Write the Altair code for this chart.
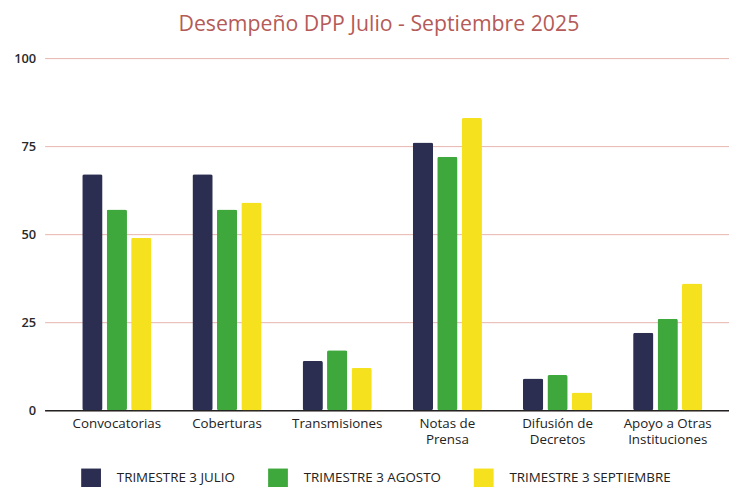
import altair as alt
import pandas as pd

categories = ["Convocatorias", "Coberturas", "Transmisiones", "Notas de Prensa",
              "Difusión de Decretos", "Apoyo a Otras Instituciones"]
series = ["TRIMESTRE 3 JULIO", "TRIMESTRE 3 AGOSTO", "TRIMESTRE 3 SEPTIEMBRE"]
julio = [67, 67, 14, 76, 9, 22]
agosto = [57, 57, 17, 72, 10, 26]
septiembre = [49, 59, 12, 83, 5, 36]
colors = ["#2b2e50", "#3ea83c", "#f6e11e"]

rows = []
for vals, s in zip([julio, agosto, septiembre], series):
    for c, v in zip(categories, vals):
        rows.append({"Categoria": c, "Serie": s, "Valor": v})
df = pd.DataFrame(rows)

label_expr = (
    "datum.value == 'Notas de Prensa' ? ['Notas de', 'Prensa'] : "
    "datum.value == 'Difusión de Decretos' ? ['Difusión de', 'Decretos'] : "
    "datum.value == 'Apoyo a Otras Instituciones' ? ['Apoyo a Otras', 'Instituciones'] : datum.value"
)

font = "Open Sans"

chart = alt.Chart(df).mark_bar(cornerRadius=2).encode(
    x=alt.X("Categoria:N", sort=categories, title=None,
            scale=alt.Scale(paddingInner=0.372, paddingOuter=0.292, align=0.585),
            axis=alt.Axis(labelAngle=0, labelExpr=label_expr, labelFont=font,
                          labelFontSize=13.5, labelColor="#222222", labelPadding=6,
                          ticks=False, domainColor="#222222", domainWidth=1.5,
                          labelLineHeight=17, labelBaseline="top")),
    xOffset=alt.XOffset("Serie:N", sort=series, scale=alt.Scale(paddingInner=0.17)),
    y=alt.Y("Valor:Q", title=None,
            scale=alt.Scale(domain=[0, 100]),
            axis=alt.Axis(values=[0, 25, 50, 75, 100], labelFont=font, labelFontSize=13,
                          labelFontWeight=600,
                          labelColor="#2a2a2a", labelPadding=9, ticks=False, domain=False,
                          gridColor="#e6b5ad", gridWidth=1)),
    color=alt.Color("Serie:N", sort=series,
                    scale=alt.Scale(domain=series, range=colors),
                    legend=alt.Legend(title=None, orient="none", direction="horizontal",
                                      legendX=37, legendY=415,
                                      symbolType="square", symbolSize=400,
                                      symbolStrokeWidth=0, labelFont=font,
                                      labelFontSize=13.5, labelColor="#222222",
                                      labelLimit=300,
                                      labelOffset=16, columnPadding=33)),
).properties(
    width=692, height=356,
    autosize=alt.AutoSizeParams(type="none"),
    padding={"left": 37, "top": 48, "right": 0, "bottom": 75},
    title=alt.Title("Desempeño DPP Julio - Septiembre 2025", font=font, fontSize=21.5,
                    fontWeight="normal", color="#b55a58", anchor="middle", dx=-8,
                    offset=17),
).configure_view(stroke=None)

chart.save("out.html", embed_options={"renderer": "svg", "actions": False})
